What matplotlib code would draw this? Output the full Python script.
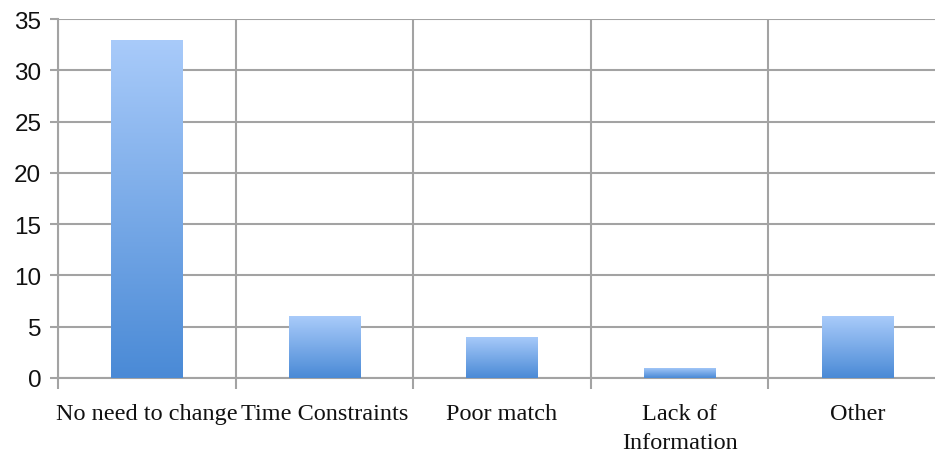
import numpy as np
import matplotlib.pyplot as plt
from matplotlib.colors import LinearSegmentedColormap

# Reasons given for not changing
categories = ['No need to change', 'Time Constraints', 'Poor match',
              'Lack of\nInformation', 'Other']
counts = [33, 6, 4, 1, 6]
y_ticks = [0, 5, 10, 15, 20, 25, 30, 35]

grid_col = '#a3a3a3'
bar_cmap = LinearSegmentedColormap.from_list('bar_grad', ['#4a8ad6', '#a9cbfa'])

fig = plt.figure(figsize=(9.35, 4.56), dpi=100)
ax = fig.add_axes([58 / 935, 77 / 456, 888 / 935, 359 / 456])

x = np.arange(len(categories))
bars = ax.bar(x, counts, width=0.4, color='none', zorder=3)

# vertical fill: darker at the base, lighter at the top
grad = np.linspace(0, 1, 256).reshape(-1, 1)
for b in bars:
    x0, y0 = b.get_x(), b.get_y()
    im = ax.imshow(grad, cmap=bar_cmap, origin='lower', aspect='auto',
                   extent=[x0, x0 + b.get_width(), y0, y0 + b.get_height()],
                   zorder=3)
    im.set_clip_path(b)

ax.set_xlim(-0.5, len(categories) - 0.5)
ax.set_ylim(0, 35)
ax.set_yticks(y_ticks)
ax.set_xticks(x)
ax.set_xticklabels(categories, family='Liberation Serif', fontsize=17.5,
                   linespacing=1.5)
ax.set_xticks(np.arange(len(categories) + 1) - 0.5, minor=True)

ax.tick_params(axis='x', which='major', length=0, pad=18, colors='#111111')
ax.tick_params(axis='x', which='minor', length=8, width=1.5, color=grid_col)
ax.tick_params(axis='y', length=6, width=1.5, color=grid_col, pad=6,
               labelsize=17.5, labelcolor='#111111')
for lab in ax.get_yticklabels():
    lab.set_family('Liberation Sans')

ax.grid(True, axis='y', which='major', color=grid_col, lw=1.5, zorder=0)
ax.grid(True, axis='x', which='minor', color=grid_col, lw=1.5, zorder=0)
ax.grid(False, axis='x', which='major')
ax.set_axisbelow(True)

for s in ['top', 'right']:
    ax.spines[s].set_visible(False)
for s in ['left', 'bottom']:
    ax.spines[s].set_color(grid_col)
    ax.spines[s].set_linewidth(1.5)

fig.savefig('out.png', dpi=100)
